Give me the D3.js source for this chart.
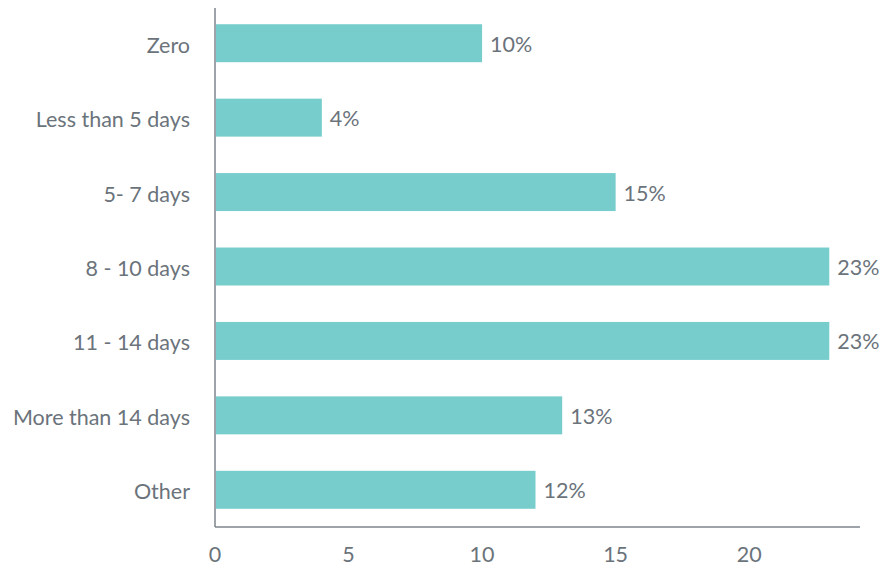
<!DOCTYPE html>
<html>
<head>
<meta charset="utf-8">
<script src="https://cdn.jsdelivr.net/npm/d3@7"></script>
<style>
  body { margin: 0; background: #fff; }
  text { font-family: Lato, "Open Sans", sans-serif; fill: #6b737b; }
</style>
</head>
<body>
<div id="chart"></div>
<script>
var categories = ['Zero', 'Less than 5 days', '5- 7 days', '8 - 10 days', '11 - 14 days', 'More than 14 days', 'Other'];
var values = [10, 4, 15, 23, 23, 13, 12];
var xTicks = [0, 5, 10, 15, 20];

var width = 882, height = 567;
var svg = d3.select('#chart').append('svg')
    .attr('width', width)
    .attr('height', height);

// plot area edges
var plotLeft = 215, plotRight = 860, plotTop = 6, plotBottom = 527;
var fontSize = '21.5px';

var x = d3.scaleLinear().domain([0, 24.15]).range([plotLeft, plotRight]);
var y = d3.scaleBand().domain(categories).range([plotTop, plotBottom])
    .paddingInner(0.49).paddingOuter(0.245);

svg.selectAll('.bar')
  .data(values)
  .enter().append('rect')
    .attr('class', 'bar')
    .attr('x', x(0) + 1)
    .attr('y', function(d, i) { return y(categories[i]); })
    .attr('width', function(d) { return x(d) - x(0) - 1; })
    .attr('height', y.bandwidth())
    .attr('fill', '#77cccc');

svg.selectAll('.val')
  .data(values)
  .enter().append('text')
    .attr('class', 'val')
    .attr('x', function(d) { return x(d) + 8; })
    .attr('y', function(d, i) { return y(categories[i]) + y.bandwidth() / 2 + 1; })
    .attr('dy', '0.35em')
    .style('font-size', fontSize)
    .text(function(d) { return d + '%'; });

// category labels
svg.selectAll('.cat')
  .data(categories)
  .enter().append('text')
    .attr('class', 'cat')
    .attr('x', 190)
    .attr('y', function(d) { return y(d) + y.bandwidth() / 2 + 2; })
    .attr('dy', '0.35em')
    .attr('text-anchor', 'end')
    .style('font-size', fontSize)
    .text(function(d) { return d; });

// x tick labels, no tick marks
svg.selectAll('.tick-lbl')
  .data(xTicks)
  .enter().append('text')
    .attr('class', 'tick-lbl')
    .attr('x', function(d) { return x(d); })
    .attr('y', 554)
    .attr('dy', '0.35em')
    .attr('text-anchor', 'middle')
    .style('font-size', fontSize)
    .text(function(d) { return d; });

// axis lines
svg.append('line')
    .attr('x1', plotLeft).attr('x2', plotLeft)
    .attr('y1', 8).attr('y2', plotBottom)
    .attr('stroke', '#7c848b').attr('stroke-width', 1.5);
svg.append('line')
    .attr('x1', plotLeft).attr('x2', plotRight)
    .attr('y1', plotBottom).attr('y2', plotBottom)
    .attr('stroke', '#7c848b').attr('stroke-width', 1.5);
</script>
</body>
</html>
